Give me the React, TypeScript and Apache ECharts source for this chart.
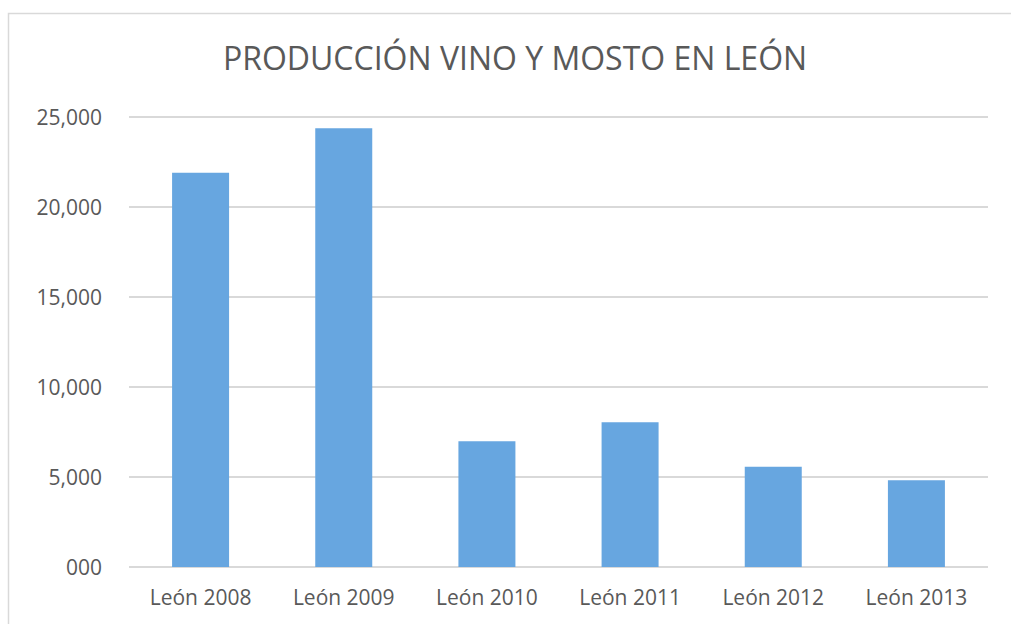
import React, { useEffect, useRef } from "react";
import * as echarts from "echarts";

const categories = ["León 2008", "León 2009", "León 2010", "León 2011", "León 2012", "León 2013"];
const production = [21900, 24370, 6980, 8040, 5570, 4820];
const titleText = "PRODUCCIÓN VINO Y MOSTO EN LEÓN";

const FONT = "'Open Sans', 'Noto Sans', sans-serif";
const GREY_TEXT = "#595959";
const GRID_GREY = "#d9d9d9";

export default function App() {
  const ref = useRef<HTMLDivElement>(null);
  useEffect(() => {
    if (!ref.current) return;
    const chart = echarts.init(ref.current, undefined, { renderer: "svg" });
    chart.setOption({
      animation: false,
      backgroundColor: "#ffffff",
      graphic: [
        {
          type: "rect",
          shape: { x: 8.5, y: 13.5, width: 1020, height: 630 },
          style: { fill: "none", stroke: GRID_GREY, lineWidth: 1.5 },
          silent: true,
          z: -10,
        },
        {
          type: "text",
          x: 515,
          y: 57,
          style: {
            text: titleText,
            fill: GREY_TEXT,
            font: `32px ${FONT}`,
            textAlign: "center",
            textVerticalAlign: "middle",
          },
        },
      ],
      grid: { left: 129, right: 23, top: 117, bottom: 57, containLabel: false },
      xAxis: {
        type: "category",
        data: categories,
        axisLine: { show: false },
        axisTick: { show: false },
        axisLabel: { color: GREY_TEXT, fontFamily: FONT, fontSize: 21, margin: 19 },
      },
      yAxis: {
        type: "value",
        min: 0,
        max: 25000,
        interval: 5000,
        axisLine: { show: false },
        axisTick: { show: false },
        splitLine: { lineStyle: { color: GRID_GREY, width: 2 } },
        axisLabel: {
          color: GREY_TEXT,
          fontFamily: FONT,
          fontSize: 21,
          margin: 27,
          formatter: (v: number) => (v === 0 ? "000" : v.toLocaleString("en-US")),
        },
      },
      series: [
        {
          type: "bar",
          data: production,
          barWidth: 57,
          itemStyle: { color: "#67a6e0" },
        },
      ],
    });
    return () => chart.dispose();
  }, []);
  return (
    <div
      ref={ref}
      style={{ position: "absolute", left: 0, top: 0, width: 1011, height: 624 }}
    />
  );
}
